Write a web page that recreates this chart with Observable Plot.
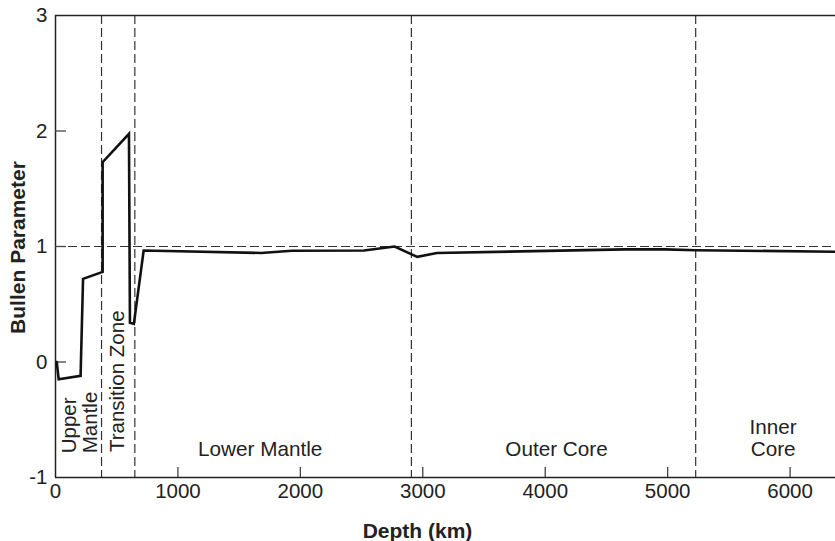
<!DOCTYPE html>
<html>
<head>
<meta charset="utf-8">
<script src="https://cdn.jsdelivr.net/npm/d3@7"></script>
<script src="https://cdn.jsdelivr.net/npm/@observablehq/plot@0.6"></script>
<style>
  html, body { margin: 0; padding: 0; background: #fff; }
  #chart svg { display: block; }
</style>
</head>
<body>
<div id="chart"></div>
<script>
// Bullen parameter profile
const depthKm = [10, 26, 205, 225, 385, 385, 600, 608, 640, 720, 1680, 1930, 2520, 2770, 2955, 3115, 4650, 4980, 5230, 6371];
const bullen  = [0.0, -0.15, -0.12, 0.72, 0.78, 1.73, 1.975, 0.34, 0.33, 0.965, 0.944, 0.963, 0.965, 1.0, 0.91, 0.944, 0.975, 0.975, 0.968, 0.955];

// Region boundaries (km)
const boundaryKm = [376, 648, 2907, 5229];

// Tick values
const xTicks = [0, 1000, 2000, 3000, 4000, 5000, 6000];
const yTicks = [-1, 0, 1, 2, 3];

// Horizontal region labels
const regionNames = ["Lower Mantle", "Outer Core", "Inner\nCore"];
const regionDepth = [1672, 4092, 5862];
const regionValue = [-0.81, -0.81, -0.81];

// Vertical (rotated) region labels
const vRegionNames = ["Upper\nMantle", "Transition Zone"];
const vRegionDepth = [336, 560];
const vRegionValue = [-0.79, -0.78];

const profile = depthKm.map((d, i) => ({depth: d, value: bullen[i]}));
const regions = regionNames.map((n, i) => ({name: n, depth: regionDepth[i], value: regionValue[i]}));
const vRegions = vRegionNames.map((n, i) => ({name: n, depth: vRegionDepth[i], value: vRegionValue[i]}));

const font = "'Liberation Sans', Arial, Helvetica, sans-serif";
const ink = "#222";
const dash = "#333";

const chart = Plot.plot({
  width: 835,
  height: 541,
  marginLeft: 55,
  marginRight: 0,
  marginTop: 15,
  marginBottom: 64,
  style: {fontFamily: font, fontSize: "20px", color: ink, background: "#fff"},
  x: {type: "linear", domain: [0, 6371]},
  y: {type: "linear", domain: [-1, 3]},
  marks: [
    // reference line at 1 and region boundaries
    Plot.ruleY([1], {stroke: dash, strokeWidth: 1.2, strokeDasharray: "9,4"}),
    Plot.ruleX(boundaryKm, {stroke: dash, strokeWidth: 1.2, strokeDasharray: "9,4"}),
    // frame lines
    Plot.ruleX([0], {stroke: ink, strokeWidth: 1.5}),
    Plot.ruleY([-1, 3], {stroke: ink, strokeWidth: 1.5}),
    // inward ticks
    Plot.axisX(xTicks.filter(d => d > 0), {tickSize: -10, fill: "none", stroke: "#444", strokeWidth: 1.3, label: null}),
    Plot.axisY(yTicks.filter(d => d > -1 && d < 3), {tickSize: -11, fill: "none", stroke: "#444", strokeWidth: 1.3, label: null}),
    // tick labels
    Plot.axisX(xTicks, {tickSize: 0, tickPadding: 6, fontSize: 20.5, fill: ink, label: null, tickFormat: d => String(d)}),
    Plot.axisY(yTicks, {tickSize: 0, tickPadding: 8, fontSize: 20.5, fill: ink, label: null, tickFormat: d => String(d)}),
    // the profile
    Plot.line(profile, {x: "depth", y: "value", stroke: "#111", strokeWidth: 2.6, strokeLinejoin: "miter", strokeMiterlimit: 4}),
    // region labels
    Plot.text(regions, {x: "depth", y: "value", text: "name", fontSize: 20.7, fill: ink, lineAnchor: "bottom", lineHeight: 1.02}),
    Plot.text(vRegions, {x: "depth", y: "value", text: "name", fontSize: 20.5, fill: ink, rotate: -90, textAnchor: "start", lineAnchor: "bottom", lineHeight: 1.02}),
    // axis titles
    Plot.text(["Depth (km)"], {frameAnchor: "bottom", textAnchor: "middle", dx: -28, dy: 60, lineAnchor: "bottom", fontSize: 21, fontWeight: "bold", fill: ink}),
    Plot.text(["Bullen Parameter"], {frameAnchor: "left", textAnchor: "middle", dx: -31, dy: 1, rotate: -90, lineAnchor: "bottom", fontSize: 21, fontWeight: "bold", fill: ink})
  ]
});

document.getElementById("chart").appendChild(chart);
</script>
</body>
</html>
